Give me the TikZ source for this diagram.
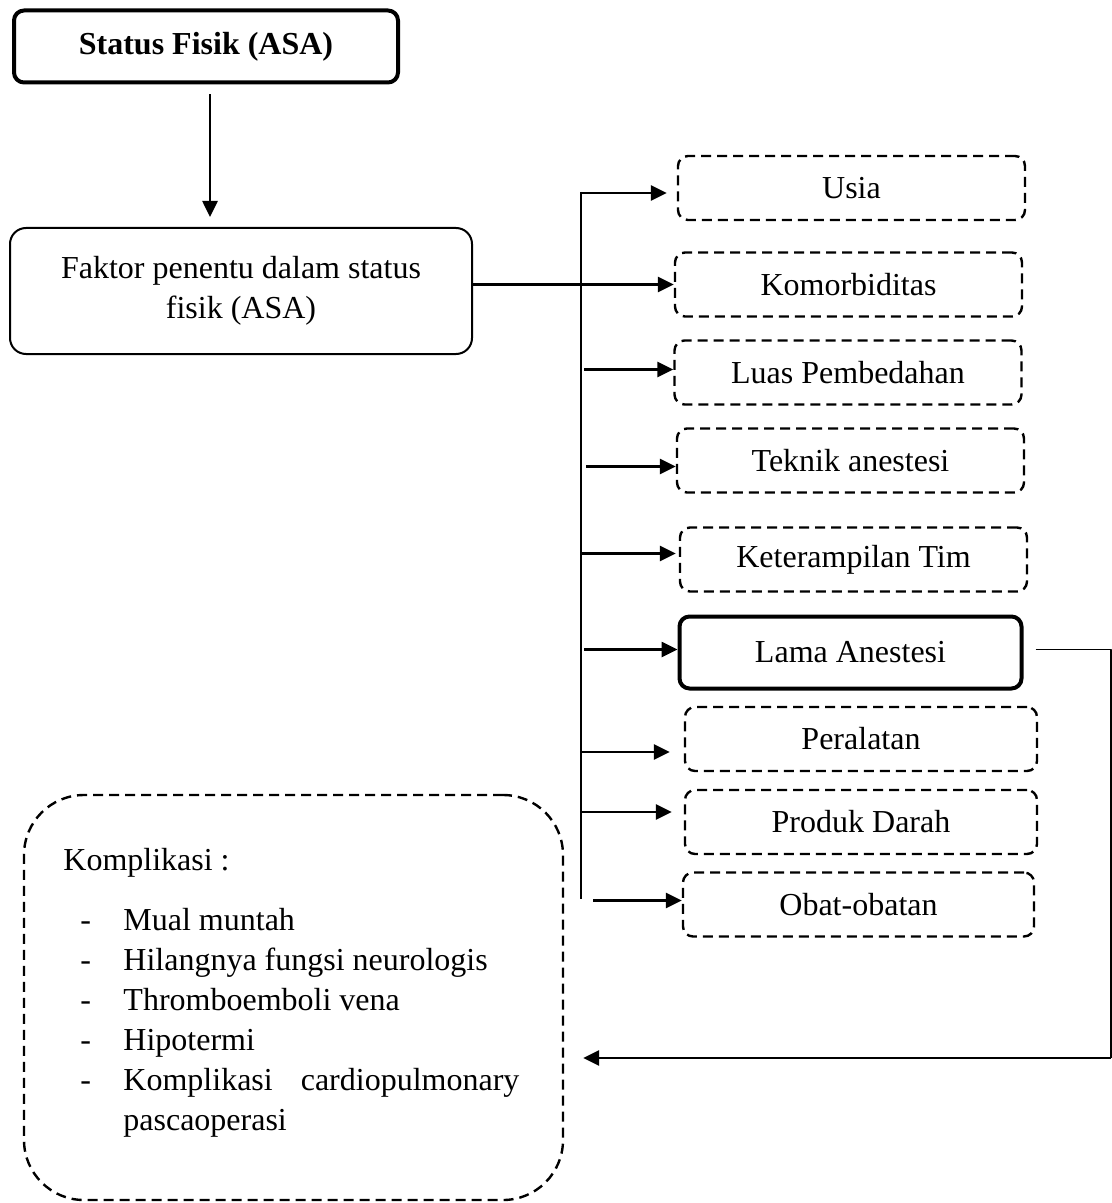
\documentclass[tikz,border=0pt]{standalone}
\usepackage{fontspec}
\setmainfont{Liberation Serif}
\usetikzlibrary{arrows.meta,calc}

\tikzset{
	kotak/.style={draw, rounded corners=5pt, minimum width=173.5pt, minimum height=32pt, inner sep=2pt, line width=1.2pt, dash pattern=on 5pt off 3pt},
	kotaktebal/.style={draw, rounded corners=5pt, line width=2pt, inner sep=2pt},
	panah/.style={->, line width=1.3pt},
	garistipis/.style={line width=0.6pt}
}

\begin{document}
\begin{tikzpicture}[x=0.5pt, y=-0.5pt, line join=round, >={Triangle[length=8pt,width=7.5pt]}, font=\fontsize{16}{20}\selectfont]
	\useasboundingbox (0,0) rectangle (1112,1203);
	% kotak kiri
	\node[kotaktebal, minimum width=192pt, minimum height=36pt, font=\fontsize{16}{20}\selectfont\bfseries] (status) at (206,46.5) {Status Fisik (ASA)};
	\node[draw, rounded corners=8pt, line width=1pt, minimum width=231pt, minimum height=63pt, align=center] (faktor) at (241,291) {Faktor penentu dalam status\\fisik (ASA)};
	% kotak kanan
	\node[kotak] (usia) at (851.5,188) {Usia};
	\node[kotak] (komorbid) at (848.5,284.5) {Komorbiditas};
	\node[kotak] (luas) at (848,372.5) {Luas Pembedahan};
	\node[kotak] (teknik) at (850.5,460.5) {Teknik anestesi};
	\node[kotak] (terampil) at (853.5,559.5) {Keterampilan Tim};
	\node[kotaktebal, minimum width=171pt, minimum height=36pt] (lama) at (850.5,652.5) {Lama Anestesi};
	\node[kotak, minimum width=176pt] (alat) at (861,739) {Peralatan};
	\node[kotak, minimum width=176pt] (darah) at (861,822) {Produk Darah};
	\node[kotak, minimum width=175.5pt] (obat) at (858.5,904.5) {Obat-obatan};
	% komplikasi
	\node[kotak, rounded corners=30pt, minimum width=269.5pt, minimum height=202.5pt] (komplikasi) at (293.5,997.5) {};
	\node[anchor=base west, inner sep=0pt] (daftar) at (63,870) {\begin{minipage}[t]{228pt}\hyphenpenalty=10000
		Komplikasi :
		\begin{list}{-}{\setlength{\topsep}{10pt}\setlength{\partopsep}{0pt}\setlength{\itemsep}{0pt}\setlength{\parsep}{0pt}\setlength{\leftmargin}{30pt}\setlength{\labelwidth}{5.3pt}\setlength{\labelsep}{16.2pt}}
			\item Mual muntah
			\item Hilangnya fungsi neurologis
			\item Thromboemboli vena
			\item Hipotermi
			\item Komplikasi cardiopulmonary pascaoperasi
		\end{list}
	\end{minipage}};
	% garis
	\coordinate (busatas) at (581,192);
	\coordinate (busbawah) at (581,899);
	\coordinate (sudut) at (1111,1058);
	\draw[garistipis] (busatas) -- (busbawah);
	\draw[panah] ($(status.south)+(4,10)$) -- ($(status.south |- faktor.north)+(4,-10)$);
	\draw[panah] (faktor.east |- komorbid.west) -- (komorbid.west);
	\draw[panah] ($(busatas |- usia.west)+(0,5)$) -- ($(usia.west)+(-10,5)$);
	\draw[panah] ($(busatas |- luas.west)+(3,-3)$) -- ($(luas.west)+(0,-3)$);
	\draw[panah] ($(busatas |- teknik.west)+(5,6)$) -- ($(teknik.west)+(0,6)$);
	\draw[panah] ($(busatas |- terampil.west)+(0,-6)$) -- ($(terampil.west)+(-3,-6)$);
	\draw[panah] ($(busatas |- lama.west)+(3,-3)$) -- ($(lama.west)+(0,-3)$);
	\draw[panah] ($(busatas |- alat.west)+(0,13)$) -- ($(alat.west)+(-14,13)$);
	\draw[panah] ($(busatas |- darah.west)+(0,-10)$) -- ($(darah.west)+(-12,-10)$);
	\draw[panah] ($(busatas |- obat.west)+(12,-4)$) -- ($(obat.west)+(0,-4)$);
	\draw[garistipis] ($(lama.east)+(12,-3)$) -| (sudut);
	\draw[panah] (sudut) -- ($(sudut -| komplikasi.east)+(19,0)$);
\end{tikzpicture}
\end{document}
